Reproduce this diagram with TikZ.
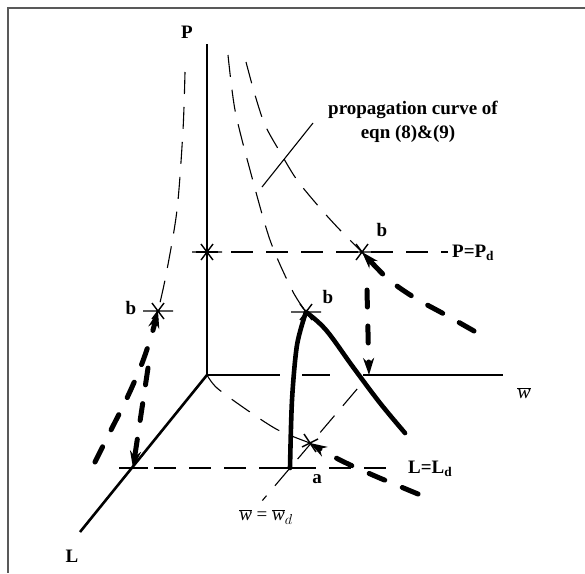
\documentclass[tikz,border=0pt]{standalone}
\usepackage{fontspec}
\setmainfont{Liberation Serif}
\usetikzlibrary{arrows.meta,calc}
\newcommand{\wbar}{\ensuremath{\overline{\mbox{\normalfont\itshape w}}}}
\begin{document}
\begin{tikzpicture}[x=1pt,y=-1pt,
  axis/.style={line width=2.6pt},
  thindash/.style={line width=1.1pt, dash pattern=on 22pt off 13pt},
  thickdash/.style={line width=5pt, line cap=round, dash pattern=on 17pt off 19pt},
  thickline/.style={line width=4.6pt, line cap=round},
  lbl/.style={font=\fontsize{19}{22}\selectfont\bfseries, inner sep=0pt},
  tipend/.style={-{Stealth[length=17pt,width=11pt]}},
  tickmark/.style={line width=1.4pt},
  starmark/.pic={\draw[line width=1.4pt] (-15,0)--(15,0) (-6,-8)--(6,8) (-6,8)--(6,-8);},
  crossmark/.pic={\draw[line width=1.4pt] (-6,-9)--(6,9) (-8,4)--(8,-4);}
]
\useasboundingbox (0,0) rectangle (585,573);
\draw[black!65, line width=1.3pt] (585,8) -- (8,8) -- (8,573);

% key points
\coordinate (O) at (207,375);
\coordinate (Ptop) at (207,44);
\coordinate (Wend) at (503,375);
\coordinate (Lend) at (80,532);
\coordinate (bL) at (158,311);
\coordinate (bM) at (306,312);
\coordinate (bR) at (362,252);
\coordinate (Pd) at (207,252);
\coordinate (Ld) at (133,468);
\coordinate (a) at (290,468);
\coordinate (wd) at (369,375);
\coordinate (s) at (310,443);
\coordinate (PdL) at (196,252);
\coordinate (PdR) at (448,252);
\coordinate (LdL) at (119,468);
\coordinate (LdR) at (392,468);

% axes
\draw[axis] (O) -- (Ptop);
\draw[axis] (O) -- (Lend);
\draw[axis] (O) -- (280,375);
\draw[axis] (302,375) -- (330,375);
\draw[axis] (363,375) -- (Wend);

% level lines
\draw[thindash] (PdL) -- (PdR);
\draw[thindash] (LdL) -- (LdR);
\draw[thindash] ($(wd)!0.15!(a)$) -- ($(wd)!1.35!(a)$);

% left curve (P-L plane)
\draw[thindash] plot[smooth] coordinates {(185,72) (183,130) (177,210) (166,275) (bL)};
\draw[thickdash, tipend] plot[smooth] coordinates {(95,462) (110,432) (127,398) (141,366) (151,337) (bL)};
\draw[thickdash, tipend] (148,368) -- (Ld);

% middle curve
\draw[thindash] plot[smooth] coordinates {(228,55) (235,110) (250,170) (270,240) (292,290) (bM)};
\draw[thickline] plot[smooth, tension=0.6] coordinates {(bM) (326,330) (353,367) (380,403) (405,433)};
\draw[thickline] plot[smooth] coordinates {(bM) (297,345) (292,400) (a)};

% right curve
\draw[thindash] plot[smooth] coordinates {(246,62) (255,95) (265,125) (280,152) (297,180) (320,208) (340,230) (bR)};
\draw[thickdash, tipend] plot[smooth] coordinates {(474,331) (444,314) (415,298) (388,279) (bR)};
\draw[thickdash, tipend] (367,290) -- (wd);

% floor curve
\draw[thindash] plot[smooth] coordinates {(O) (217,388) (247,410) (278,430) (s)};
\draw[thickdash, tipend] plot[smooth] coordinates {(418,494) (375,476) (340,460) (s)};

% marks
\pic at (Pd) {starmark};
\pic at (bM) {starmark};
\pic at (bR) {starmark};
\pic at (bL) {starmark};
\pic at (s) {crossmark};
\draw[tickmark] (LdL) -- (148,468);
\draw[tickmark] (278,468) -- (303,468);

% leader
\coordinate (leadA) at (262,187);
\coordinate (leadB) at (313,123);
\draw[line width=1.1pt] (leadA) -- (leadB);

% labels
\node[lbl] (lP) at (187,32) {P};
\node[lbl] (lL) at (72,556) {L};
\node[lbl, font=\fontsize{20}{22}\selectfont] (lw) at (524,393) {\wbar};
\node[lbl] (lbL) at (131,308) {b};
\node[lbl] (lbM) at (328,297) {b};
\node[lbl] (lbR) at (382,230) {b};
\node[lbl] (la) at (317,479) {a};
\node[lbl, anchor=west] (lPd) at (452,253) {P=P$_{\mathbf{d}}$};
\node[lbl, anchor=west] (lLd) at (408,469) {L=L$_{\mathbf{d}}$};
\node[lbl] (lprop) at (413,110) {propagation curve of};
\node[lbl] (leqn) at (408,134) {eqn (8)\&(9)};
\node[lbl, font=\fontsize{19}{21}\selectfont] (lwd) at (266,517) {\wbar{} = \wbar$_{d}$};
\end{tikzpicture}
\end{document}
